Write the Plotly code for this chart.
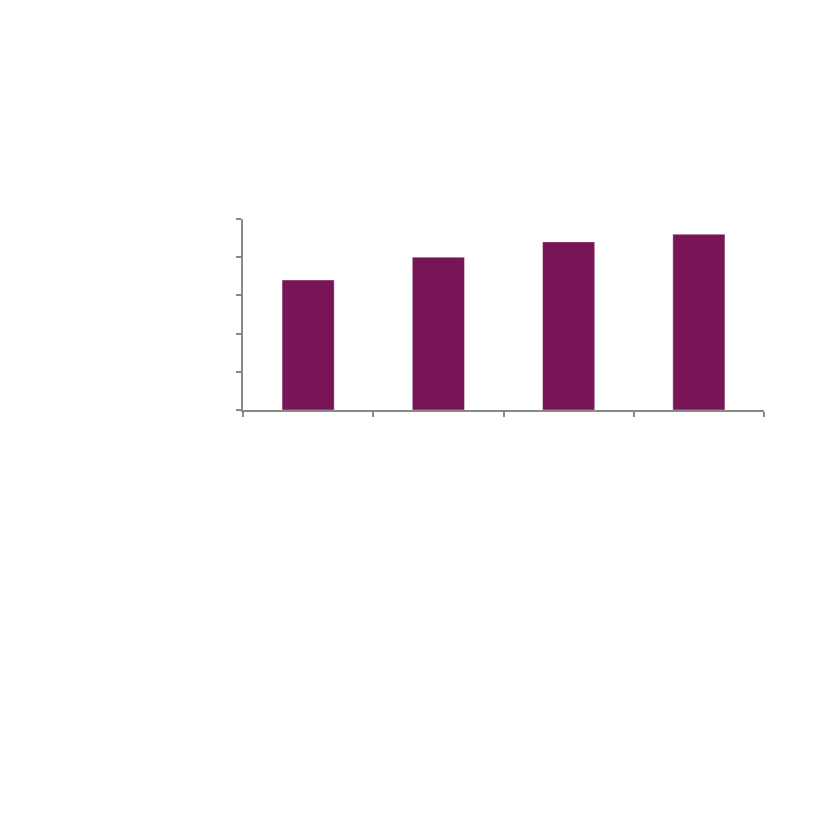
import plotly.graph_objects as go

categories = ["A", "B", "C", "D"]
values = [3.4, 4.0, 4.4, 4.6]
y_tick_values = [0, 1, 2, 3, 4, 5]

fig = go.Figure(
    go.Bar(
        x=categories,
        y=values,
        width=0.4,
        marker=dict(color="#771556", line=dict(color="rgba(255,255,255,0.35)", width=1)),
        hoverinfo="skip",
    )
)

axis_color = "#898989"
fig.update_layout(
    width=827,
    height=827,
    margin=dict(l=235, r=71, t=211, b=425),
    paper_bgcolor="white",
    plot_bgcolor="white",
    showlegend=False,
)
fig.update_xaxes(
    type="category",
    range=[-0.5, 3.5],
    showline=True,
    linecolor=axis_color,
    linewidth=1.5,
    ticks="outside",
    tickson="boundaries",
    ticklen=5,
    tickcolor=axis_color,
    tickwidth=1.5,
    showticklabels=False,
    showgrid=False,
    zeroline=False,
)
fig.update_yaxes(
    range=[0, 5],
    tickvals=y_tick_values,
    showline=True,
    linecolor=axis_color,
    linewidth=1.5,
    ticks="outside",
    ticklen=5,
    tickcolor=axis_color,
    tickwidth=1.5,
    showticklabels=False,
    showgrid=False,
    zeroline=False,
)

fig.write_html("out.html")
